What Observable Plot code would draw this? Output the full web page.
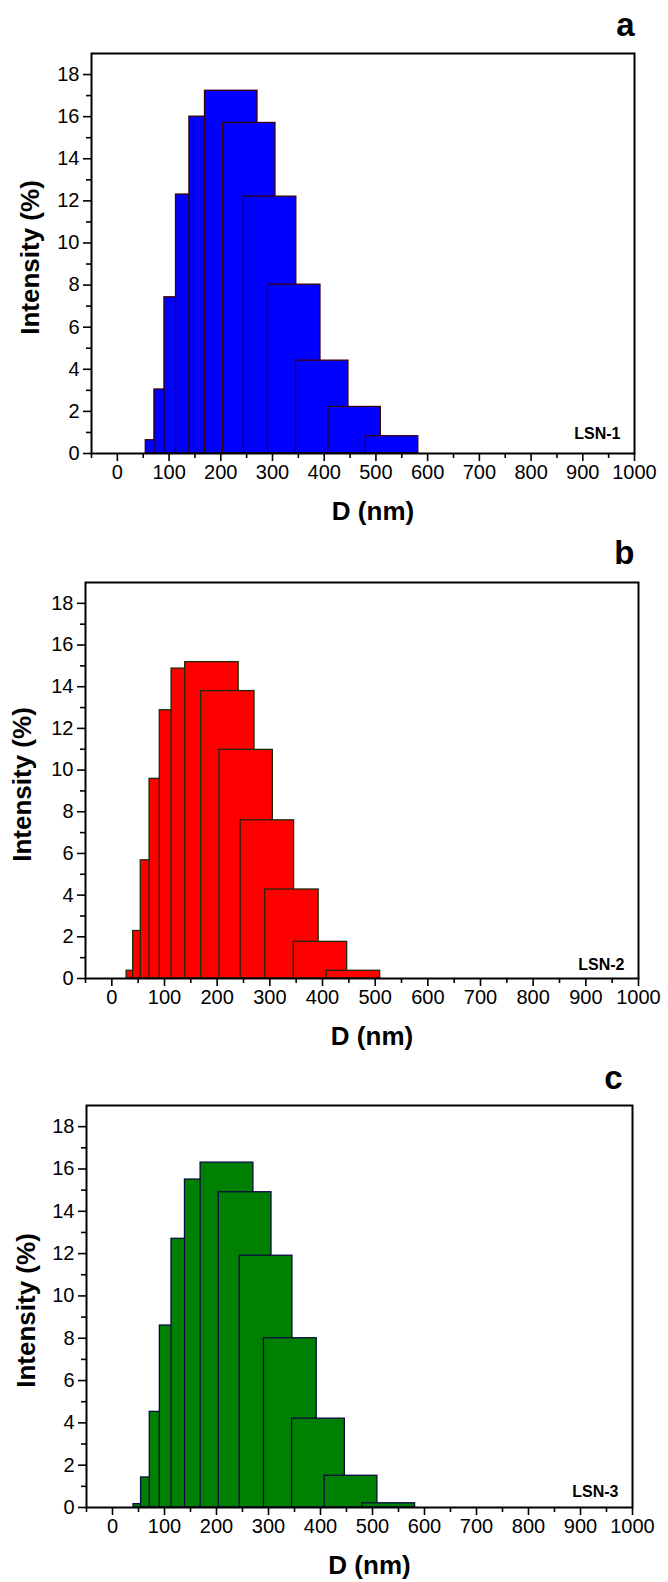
<!DOCTYPE html>
<html>
<head>
<meta charset="utf-8">
<script src="https://cdn.jsdelivr.net/npm/d3@7"></script>
<script src="https://cdn.jsdelivr.net/npm/@observablehq/plot@0.6"></script>
<style>
  html, body { margin: 0; padding: 0; background: #fff; }
  svg { display: block; }
</style>
</head>
<body>
<div id="chart"></div>
<script>
// ---- data ----
const sizeA = [105.7, 122.4, 141.8, 164.2, 190.1, 220.2, 255.0, 295.3, 342.0, 396.1, 458.7, 531.2];
const intensityA = [0.63, 3.04, 7.42, 12.3, 16.0, 17.23, 15.7, 12.2, 8.02, 4.41, 2.21, 0.82];

const sizeB = [78.82, 91.28, 105.7, 122.4, 141.8, 164.2, 190.1, 220.2, 255.0, 295.3, 342.0, 396.1, 458.7];
const intensityB = [0.37, 2.28, 5.67, 9.58, 12.87, 14.87, 15.18, 13.79, 10.97, 7.59, 4.27, 1.76, 0.37];

const sizeC = [91.28, 105.7, 122.4, 141.8, 164.2, 190.1, 220.2, 255.0, 295.3, 342.0, 396.1, 458.7, 531.2];
const intensityC = [0.16, 1.42, 4.52, 8.6, 12.7, 15.5, 16.3, 14.9, 11.9, 8.0, 4.2, 1.5, 0.2];

const xTicks = [0, 100, 200, 300, 400, 500, 600, 700, 800, 900, 1000];
const xMinorTicks = [-50, 50, 150, 250, 350, 450, 550, 650, 750, 850, 950];
const yTicks = [0, 2, 4, 6, 8, 10, 12, 14, 16, 18];
const yMinorTicks = [1, 3, 5, 7, 9, 11, 13, 15, 17];

const sampleNames = ["LSN-1", "LSN-2", "LSN-3"];
const panelLetters = ["a", "b", "c"];
const xTitle = "D (nm)";
const yTitle = "Intensity (%)";

// ---- styling ----
const FONT = "Arial, 'Liberation Sans', Helvetica, sans-serif";
const HALF_WIDTH = 50.75; // column half-width in nm

function panel(o) {
  const data = o.sizes.map((d, i) => ({D: d, v: o.values[i]}));
  return Plot.plot({
    width: 668,
    height: o.height,
    marginLeft: o.ml, marginRight: o.mr, marginTop: o.mt, marginBottom: o.mb,
    x: {domain: [-50, 1000]},
    y: {domain: [0, 19]},
    style: {fontFamily: FONT, fontSize: "20px", color: "black", background: "white", overflow: "visible"},
    marks: [
      Plot.rect(data, {
        x1: d => d.D - HALF_WIDTH, x2: d => d.D + HALF_WIDTH,
        y1: d => 0, y2: "v",
        fill: o.fill, stroke: o.stroke, strokeWidth: 1.3
      }),
      Plot.frame({stroke: "black", strokeWidth: 2}),
      Plot.axisX({ticks: xTicks, tickSize: 8, tickPadding: 3, tickFormat: "d", label: null, strokeWidth: 1.6, fontSize: 20}),
      Plot.axisX({ticks: xMinorTicks, tickSize: 5, tickFormat: () => "", label: null, strokeWidth: 1.6}),
      Plot.axisY({ticks: yTicks, tickSize: 8, tickPadding: 4, tickFormat: "d", label: null, strokeWidth: 1.6, fontSize: 20}),
      Plot.axisY({ticks: yMinorTicks, tickSize: 5, tickFormat: () => "", label: null, strokeWidth: 1.6}),
      Plot.text([o.tag], {
        text: d => d, frameAnchor: "bottom-right", textAnchor: "end", lineAnchor: "bottom",
        dx: -14, dy: -o.tagUp, fontSize: 16, fontWeight: "bold", fill: "black"
      }),
      Plot.text([xTitle], {
        text: d => d, frameAnchor: "bottom", textAnchor: "middle", lineAnchor: "bottom",
        dx: 10, dy: 66, fontSize: 26, fontWeight: "bold", fill: "black"
      }),
      Plot.text([yTitle], {
        text: d => d, frameAnchor: "left", textAnchor: "middle", lineAnchor: "middle", rotate: -90,
        dx: o.ylabDx, dy: 4, fontSize: 26, fontWeight: "bold", fill: "black"
      }),
      Plot.text([o.letter], {
        text: d => d, frameAnchor: "top-right", textAnchor: "end", lineAnchor: "bottom",
        dx: o.letterDx, dy: -o.letterUp, fontSize: 33, fontWeight: "bold", fill: "black"
      })
    ]
  });
}

const root = document.getElementById("chart");
root.appendChild(panel({
  sizes: sizeA, values: intensityA, fill: "#0000ff", stroke: "#3a0008",
  tag: sampleNames[0], letter: panelLetters[0],
  height: 530, ml: 91, mr: 34, mt: 53, mb: 77,
  tagUp: 15, ylabDx: -61, letterDx: 0, letterUp: 18
}));
root.appendChild(panel({
  sizes: sizeB, values: intensityB, fill: "#ff0000", stroke: "#1c2a0c",
  tag: sampleNames[1], letter: panelLetters[1],
  height: 525, ml: 85, mr: 30, mt: 52, mb: 77,
  tagUp: 9, ylabDx: -63, letterDx: -4, letterUp: 19
}));
root.appendChild(panel({
  sizes: sizeC, values: intensityC, fill: "#008000", stroke: "#0a0a40",
  tag: sampleNames[2], letter: panelLetters[2],
  height: 527, ml: 86, mr: 36, mt: 50, mb: 75,
  tagUp: 11, ylabDx: -60, letterDx: -10, letterUp: 17
}));
</script>
</body>
</html>
